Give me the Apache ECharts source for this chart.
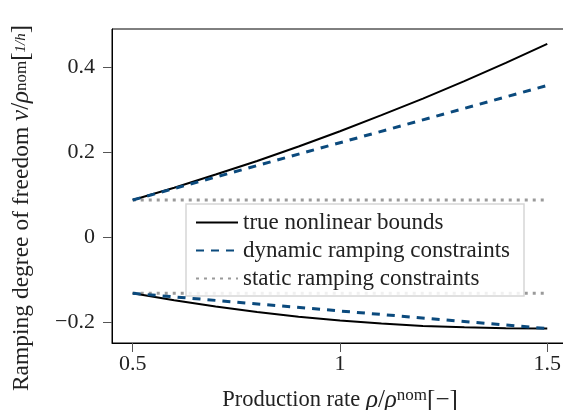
<!DOCTYPE html>
<html>
<head>
<meta charset="utf-8">
<script src="https://cdn.jsdelivr.net/npm/echarts@6/dist/echarts.min.js"></script>
<style>html,body{margin:0;padding:0;background:#fff}#c{width:563px;height:410px}</style>
</head>
<body>
<div id="c"></div>
<script>
const rates = [0.5, 0.6, 0.7, 0.8, 0.9, 1.0, 1.1, 1.2, 1.3, 1.4, 1.5];
const trueUpper = [0.087, 0.116, 0.147, 0.179, 0.213, 0.249, 0.287, 0.326, 0.367, 0.410, 0.455];
const trueLower = [-0.133, -0.1495, -0.164, -0.177, -0.188, -0.197, -0.204, -0.210, -0.213, -0.215, -0.216];
const dynRates = [0.5, 1.5];
const dynUpper = [0.087, 0.357];
const dynLower = [-0.133, -0.216];
const staticRates = [0.5, 1.5];
const staticUpper = [0.087, 0.087];
const staticLower = [-0.133, -0.133];
const xTicks = [0.5, 1, 1.5];
const yTicks = [-0.2, 0, 0.2, 0.4];
const legendNames = ['true nonlinear bounds', 'dynamic ramping constraints', 'static ramping constraints'];

const FONT = 'Liberation Serif';
const zip = (xs, ys) => xs.map((x, i) => [x, ys[i]]);
const fmt = v => String(v).replace('-', '\u2212');

const trueStyle = { color: '#000', width: 2, type: 'solid' };
const dynStyle = { color: '#0b4a7d', width: 3, type: [8, 7], cap: 'butt' };
const statStyle = { color: '#9a9a9a', width: 3, type: [3, 5], cap: 'butt' };

function s(name, data, ls, z) {
  return { name, type: 'line', data, symbol: 'none', showSymbol: false, smooth: false,
    lineStyle: ls, itemStyle: { color: ls.color }, z, animation: false };
}

const chart = echarts.init(document.getElementById('c'), null, { renderer: 'canvas' });
chart.setOption({
  animation: false,
  backgroundColor: '#fff',
  grid: { left: 112, top: 29, bottom: 67, right: -5, show: true, borderColor: '#000', borderWidth: 1,
    containLabel: false, outerBoundsMode: 'none' },
  xAxis: {
    type: 'value', min: 0.45, max: 1.55,
    axisLine: { show: true, onZero: false, lineStyle: { color: '#000', width: 1 } },
    axisTick: { show: true, customValues: xTicks, length: 9, lineStyle: { color: '#555' } },
    axisLabel: { customValues: xTicks, formatter: fmt, fontFamily: FONT, fontSize: 22, color: '#222', margin: 10 },
    splitLine: { show: false },
    name: '{a|Production rate }{i|ρ}{b|/}{i|ρ}{sup|nom}{b|[\u2212]}',
    nameLocation: 'middle', nameGap: 44,
    nameTextStyle: { rich: {
      a: { fontFamily: FONT, fontSize: 22.5, color: '#222' },
      b: { fontFamily: FONT, fontSize: 25, color: '#222' },
      i: { fontFamily: FONT, fontSize: 25, fontStyle: 'italic', color: '#222' },
      sup: { fontFamily: FONT, fontSize: 17, color: '#222', verticalAlign: 'top', padding: [0, 0, 10, 0] }
    } }
  },
  yAxis: {
    type: 'value', min: -0.25, max: 0.49,
    axisLine: { show: true, onZero: false, lineStyle: { color: '#000', width: 1 } },
    axisTick: { show: true, customValues: yTicks, length: 9, lineStyle: { color: '#555' } },
    axisLabel: { customValues: yTicks, formatter: fmt, fontFamily: FONT, fontSize: 22, color: '#222', margin: 17 },
    splitLine: { show: false },
    name: '{a|Ramping degree of freedom }{i|ν}{b|/}{i|ρ}{sup|nom}{b|[}{sm|1/h}{b|]}',
    nameLocation: 'middle', nameGap: 78,
    nameTextStyle: { padding: [0, 44, 0, 0], rich: {
      a: { fontFamily: FONT, fontSize: 23.5, color: '#222' },
      b: { fontFamily: FONT, fontSize: 25, color: '#222' },
      i: { fontFamily: FONT, fontSize: 25, fontStyle: 'italic', color: '#222' },
      sup: { fontFamily: FONT, fontSize: 17, color: '#222' },
      sm: { fontFamily: FONT, fontSize: 15, fontStyle: 'italic', color: '#222' }
    } }
  },
  legend: {
    data: legendNames, orient: 'vertical', left: 186, top: 204,
    padding: [7, 14, 6, 9], itemGap: 5, itemWidth: 42, itemHeight: 14,
    itemStyle: { opacity: 0 },
    borderColor: '#d6d6d6', borderWidth: 1.5, backgroundColor: 'rgba(255,255,255,0.85)',
    textStyle: { fontFamily: FONT, fontSize: 23, color: '#222', lineHeight: 23 },
    selectedMode: false
  },
  series: [
    s(legendNames[2], zip(staticRates, staticUpper), statStyle, 2),
    s(legendNames[2], zip(staticRates, staticLower), statStyle, 2),
    s(legendNames[0], zip(rates, trueUpper), trueStyle, 3),
    s(legendNames[0], zip(rates, trueLower), trueStyle, 3),
    s(legendNames[1], zip(dynRates, dynUpper), dynStyle, 4),
    s(legendNames[1], zip(dynRates, dynLower), dynStyle, 4)
  ]
});
</script>
</body>
</html>
